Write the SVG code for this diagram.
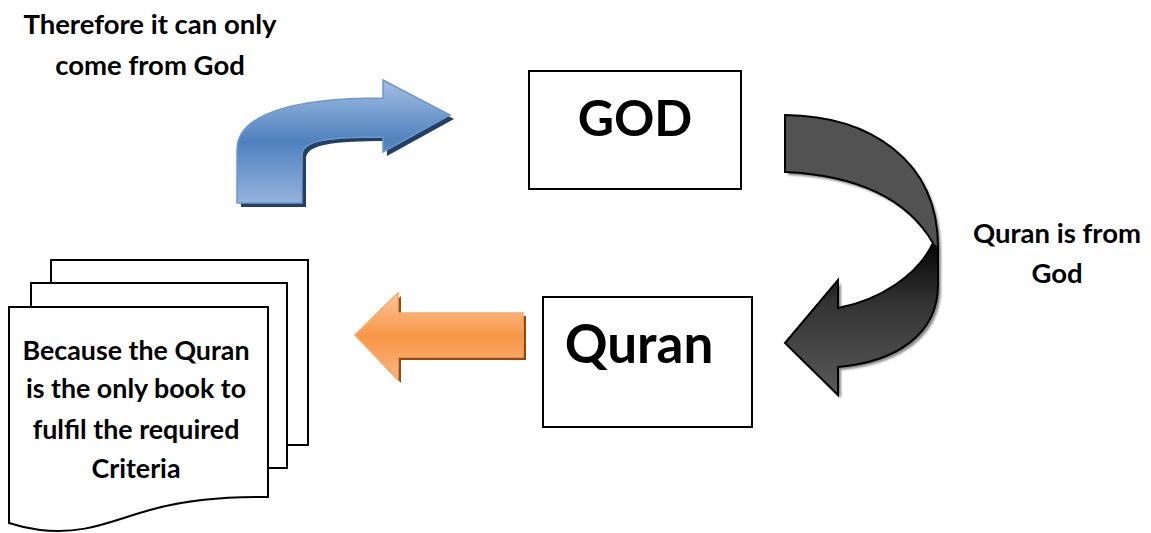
<svg xmlns="http://www.w3.org/2000/svg" width="1151" height="533" viewBox="0 0 1151 533">
<style>
  .lbl{font-family:Lato,"Liberation Sans",sans-serif;font-weight:bold;fill:#000;text-anchor:middle}
  .small{font-size:27.5px}
  .doc{font-size:26.8px}
  .box{fill:#fff;stroke:#000;stroke-width:2}
  .page{fill:#fff;stroke:#000;stroke-width:2;stroke-linejoin:miter}
</style>
<defs>
  <linearGradient id="gBlue" x1="0" y1="0" x2="0" y2="1">
    <stop offset="0" stop-color="#a3bfe4"/>
    <stop offset="0.5" stop-color="#4f81bd"/>
    <stop offset="1" stop-color="#95b3de"/>
  </linearGradient>
  <linearGradient id="gOrange" x1="0" y1="0" x2="0" y2="1">
    <stop offset="0" stop-color="#fbc69c"/>
    <stop offset="0.5" stop-color="#f79646"/>
    <stop offset="1" stop-color="#f9b584"/>
  </linearGradient>
  <linearGradient id="gDark" gradientUnits="userSpaceOnUse" x1="0" y1="243" x2="0" y2="395">
    <stop offset="0" stop-color="#050505"/>
    <stop offset="0.4" stop-color="#333"/>
    <stop offset="1" stop-color="#5a5a5a"/>
  </linearGradient>
  <filter id="blur" x="-10%" y="-10%" width="120%" height="120%">
    <feGaussianBlur stdDeviation="1.2"/>
  </filter>
</defs>

<g id="connectors">
  <g id="arrow-blue">
    <path d="M241,207 L241,154 C241,119 294,102 387,102 L387,84 L454,119 L387,156 L387,141 C334,141 306,144 306,159 L306,207 Z" fill="#223f66"/>
    <path d="M237,203 L237,150 C237,115 290,98 383,98 L383,80 L450,115 L383,152 L383,137 C330,137 302,140 302,155 L302,203 Z" fill="url(#gBlue)" stroke="#6f97cc" stroke-width="1.5"/>
  </g>
  <g id="arrow-dark">
    <path d="M785,115 C870,116 938,160 938,247 L938,285 C938,335 895,362 838,367 L838,395 L785,343 L838,280 L838,308 C880,300 918,275 933,243 C905,195 850,175 785,172 Z" fill="#888" transform="translate(3,3)" filter="url(#blur)"/>
    <path d="M785,115 C870,116 938,160 938,247 L938,285 C938,335 895,362 838,367 L838,395 L785,343 L838,280 L838,308 C880,300 918,275 933,243 C905,195 850,175 785,172 Z" fill="#525252"/>
    <path d="M938,247 L938,285 C938,335 895,362 838,367 L838,395 L785,343 L838,280 L838,308 C880,300 918,275 933,243 Z" fill="url(#gDark)"/>
    <path d="M785,115 C870,116 938,160 938,247 L938,285 C938,335 895,362 838,367 L838,395 L785,343 L838,280 L838,308 C880,300 918,275 933,243 C905,195 850,175 785,172 Z" fill="none" stroke="#000" stroke-width="2" stroke-linejoin="miter"/>
  </g>
  <g id="arrow-orange">
    <path d="M358,338 L401,296 L401,316 L526,316 L526,360 L401,360 L401,383 Z" fill="#984807"/>
    <path d="M355,335 L398,293 L398,313 L523,313 L523,357 L398,357 L398,380 Z" fill="url(#gOrange)" stroke="#f7a868" stroke-width="1.5"/>
  </g>
</g>

<g id="text-therefore">
  <text class="lbl small" x="150" y="34">Therefore it can only</text>
  <text class="lbl small" x="150" y="75">come from God</text>
</g>

<g id="node-god">
  <rect class="box" x="529" y="71" width="212" height="118"/>
  <text class="lbl" font-size="50" x="635" y="136">GOD</text>
</g>

<g id="node-quran">
  <rect class="box" x="543" y="297" width="209" height="130"/>
  <text class="lbl" font-size="53" x="639" y="363">Quran</text>
</g>

<g id="text-quran-from">
  <text class="lbl small" x="1057" y="243">Quran is from</text>
  <text class="lbl small" x="1057" y="283">God</text>
</g>

<g id="node-documents">
  <path class="page" d="M51,283 L51,260 L308,260 L308,445 L287,445"/>
  <path class="page" d="M31,307 L31,283 L287,283 L287,468 L268,468"/>
  <path class="page" d="M9,307 L268,307 L268,497 C220,497 185,500 150,510 C110,521 85,535 40,530 C25,528 15,525 9,523 Z"/>
  <text class="lbl doc" x="136" y="360">Because the Quran</text>
  <text class="lbl doc" x="136" y="398">is the only book to</text>
  <text class="lbl doc" x="136" y="439">fulfil the required</text>
  <text class="lbl doc" x="136" y="478">Criteria</text>
</g>
</svg>
